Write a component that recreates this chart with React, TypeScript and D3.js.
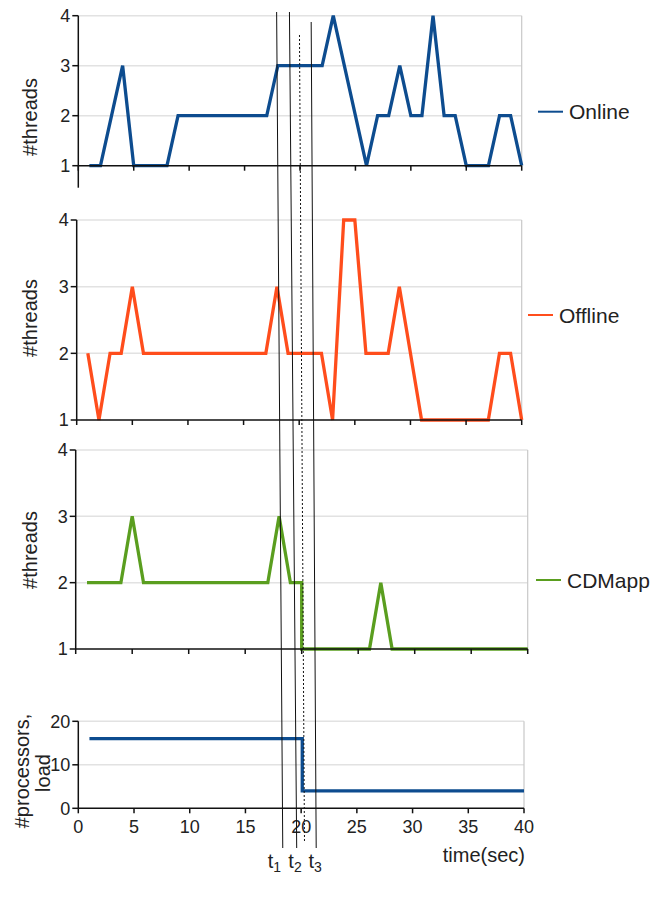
import React from "react";
import * as d3 from "d3";

const times = d3.range(1, 41);
const onlineThreads = [1,1,2,3,1,1,1,1,2,2,2,2,2,2,2,2,2,3,3,3,3,3,4,3,2,1,2,2,3,2,2,4,2,2,1,1,1,2,2,1];
const offlineThreads = [2,1,2,2,3,2,2,2,2,2,2,2,2,2,2,2,2,3,2,2,2,2,1,4,4,2,2,2,3,2,1,1,1,1,1,1,1,2,2,1];
const cdmappTimes = [1,2,3,4,5,6,7,8,9,10,11,12,13,14,15,16,17,18,19,20,20,21,22,23,24,25,26,27,28,29,30,31,32,33,34,35,36,37,38,39,40];
const cdmappThreads = [2,2,2,2,3,2,2,2,2,2,2,2,2,2,2,2,2,3,2,2,1,1,1,1,1,1,1,2,1,1,1,1,1,1,1,1,1,1,1,1,1];
const loadTimes = [1, 20.1, 20.1, 40];
const loadValues = [16, 16, 4, 4];
const threadTicks = [1, 2, 3, 4];
const loadTicks = [0, 10, 20];
const timeTicks = [0, 5, 10, 15, 20, 25, 30, 35, 40];
// annotation lines: time at top / bottom of the figure (slanted)
const markerNames = ["1", "2", "3"];
const markerTop = [17.8, 18.95, 20.9];
const markerBottom = [18.35, 19.6, 21.35];
const markerLabelAt = [17.6, 19.45, 21.25];
const dottedTop = 19.85;
const dottedBottom = 20.3;

const BLUE = "#0d4c8f";
const ORANGE = "#ff4d1c";
const GREEN = "#5a9e1f";
const GRID = "#e2e2e2";
const FONT = "'Liberation Sans', Arial, sans-serif";
const TXT = "#222";

type Panel = {
  xs: number[]; ys: number[]; color: string; x0: number; x1: number;
  yBottom: number; yTop: number; dom: [number, number]; ticks: number[];
  legend?: string; legX?: number; legY?: number; axisExtra: number;
};

function PanelView({ p }: { p: Panel }) {
  const x = d3.scaleLinear().domain([0, 40]).range([p.x0, p.x1]);
  const y = d3.scaleLinear().domain(p.dom).range([p.yBottom, p.yTop]);
  const line = d3.line<number>().x((_, i) => x(p.xs[i])).y((d) => y(d));
  return (
    <g>
      {p.ticks.filter((t) => t !== p.dom[0]).map((t) => (
        <line key={"g" + t} x1={p.x0} x2={p.x1} y1={y(t)} y2={y(t)} stroke={GRID} strokeWidth={1.5} />
      ))}
      <line x1={p.x1} x2={p.x1} y1={y(p.dom[1])} y2={y(p.dom[0])} stroke="#c8c8c8" strokeWidth={1.2} />
      <path d={line(p.ys) || ""} fill="none" stroke={p.color} strokeWidth={3.3} strokeLinejoin="miter" />
      <line x1={p.x0} x2={p.x1} y1={y(p.dom[0])} y2={y(p.dom[0])} stroke="#111" strokeWidth={1.5} />
      <line x1={p.x0} x2={p.x0} y1={y(p.dom[1])} y2={y(p.dom[0]) + p.axisExtra} stroke="#111" strokeWidth={1.5} />
      {timeTicks.map((t) => (
        <line key={"xt" + t} x1={x(t)} x2={x(t)} y1={y(p.dom[0])} y2={y(p.dom[0]) + 5} stroke="#111" strokeWidth={1.5} />
      ))}
      {p.ticks.map((t) => (
        <g key={"yt" + t}>
          <line x1={p.x0 - 6} x2={p.x0} y1={y(t)} y2={y(t)} stroke="#111" strokeWidth={1.5} />
          <text x={p.x0 - 8} y={y(t)} dy="0.36em" textAnchor="end" fontSize={18} fontFamily={FONT} fill={TXT}>{t}</text>
        </g>
      ))}
      {p.legend && (
        <g>
          <line x1={p.legX!} x2={p.legX! + 25} y1={p.legY!} y2={p.legY!} stroke={p.color} strokeWidth={2} />
          <text x={p.legX! + 31} y={p.legY!} dy="0.36em" fontSize={21} fontFamily={FONT} fill={TXT}>{p.legend}</text>
        </g>
      )}
    </g>
  );
}

export default function App() {
  const panels: Panel[] = [
    { xs: times, ys: onlineThreads, color: BLUE, x0: 78.3, x1: 521.7, yBottom: 165.7, yTop: 15.7, dom: [1, 4], ticks: threadTicks, legend: "Online", legX: 538, legY: 111.7, axisExtra: 22 },
    { xs: times, ys: offlineThreads, color: ORANGE, x0: 76.7, x1: 521.7, yBottom: 420, yTop: 220, dom: [1, 4], ticks: threadTicks, legend: "Offline", legX: 528, legY: 315, axisExtra: 0 },
    { xs: cdmappTimes, ys: cdmappThreads, color: GREEN, x0: 75.7, x1: 527.7, yBottom: 649, yTop: 450, dom: [1, 4], ticks: threadTicks, legend: "CDMapp", legX: 536, legY: 580, axisExtra: 0 },
    { xs: loadTimes, ys: loadValues, color: BLUE, x0: 78.3, x1: 524, yBottom: 808.3, yTop: 721.3, dom: [0, 20], ticks: loadTicks, axisExtra: 0 },
  ];
  const xb = d3.scaleLinear().domain([0, 40]).range([78.3, 524]);
  const yTitles = [
    { cy: 117, lines: ["#threads"] },
    { cy: 318, lines: ["#threads"] },
    { cy: 550, lines: ["#threads"] },
  ];
  return (
    <svg width={652} height={899} style={{ position: "absolute", left: 0, top: 0, background: "#fff" }}>
      <rect width={652} height={899} fill="#fff" />
      {panels.map((p, i) => <PanelView key={i} p={p} />)}
      {yTitles.map((t, i) => (
        <text key={i} transform={`translate(37,${t.cy}) rotate(-90)`} textAnchor="middle" fontSize={20} fontFamily={FONT} fill={TXT}>{t.lines[0]}</text>
      ))}
      <text transform="translate(29,771) rotate(-90)" textAnchor="middle" fontSize={20} fontFamily={FONT} fill={TXT}>#processors,</text>
      <text transform="translate(50,773) rotate(-90)" textAnchor="middle" fontSize={20} fontFamily={FONT} fill={TXT}>load</text>
      {timeTicks.map((t) => (
        <text key={t} x={xb(t)} y={827} dy="0.36em" textAnchor="middle" fontSize={18} fontFamily={FONT} fill={TXT}>{t}</text>
      ))}
      <text x={525} y={862} textAnchor="end" fontSize={20} fontFamily={FONT} fill={TXT}>time(sec)</text>
      {markerNames.map((m, i) => (
        <g key={m}>
          <line x1={xb(markerTop[i])} y1={i === 2 ? 22 : 12} x2={xb(markerBottom[i])} y2={848} stroke="#111" strokeWidth={1} />
          <text x={xb(markerLabelAt[i])} y={868} textAnchor="middle" fontSize={20} fontFamily={FONT} fill={TXT}>
            t<tspan fontSize={14} dy={4}>{m}</tspan>
          </text>
        </g>
      ))}
      <line x1={xb(dottedTop)} y1={35} x2={xb(dottedBottom)} y2={843} stroke="#111" strokeWidth={1} strokeDasharray="2,2" />
    </svg>
  );
}
